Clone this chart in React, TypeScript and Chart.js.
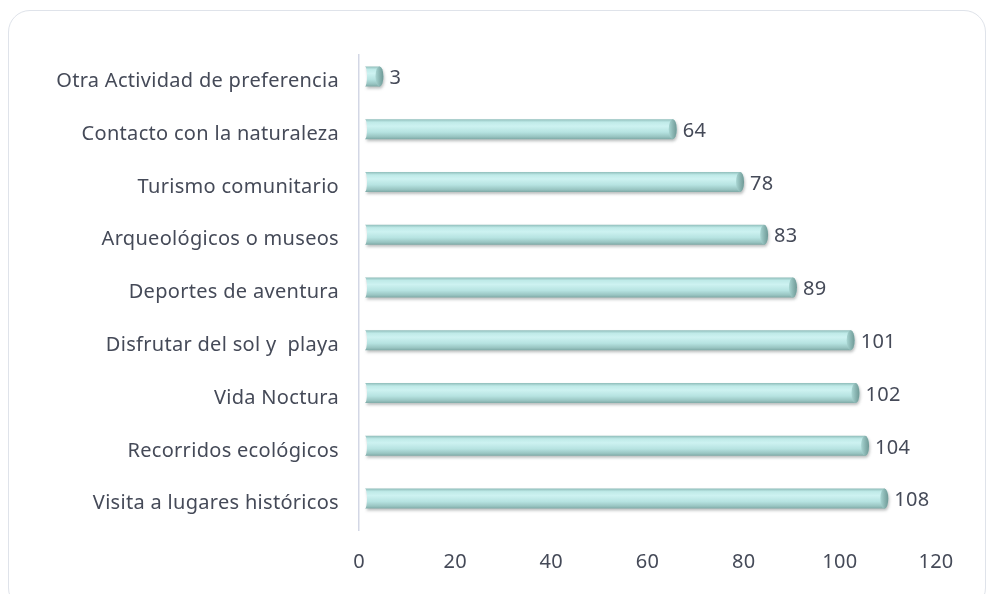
import React, { useEffect, useRef } from "react";
import { Chart, registerables } from "chart.js";

Chart.register(...registerables);

const categories = [
  "Otra Actividad de preferencia",
  "Contacto con la naturaleza",
  "Turismo comunitario",
  "Arqueológicos o museos",
  "Deportes de aventura",
  "Disfrutar del sol y  playa",
  "Vida Noctura",
  "Recorridos ecológicos",
  "Visita a lugares históricos",
];
const values = [3, 64, 78, 83, 89, 101, 102, 104, 108];
const xMin = 0;
const xMax = 120;
const xStep = 20;

const FONT = "'Noto Sans', sans-serif";
const TEXT = "#454a58";
const DEPTH_X = 6;
const DEPTH_Y = -5;
const BAR_H = 20;
const FS = 20;

const spacing = {
  id: "spacing",
  beforeDraw(chart: any) {
    chart.ctx.letterSpacing = "0.3px";
  },
  afterDraw(chart: any) {
    chart.ctx.letterSpacing = "0px";
  },
};

const barStyle = {
  id: "barStyle",
  afterDatasetDraw(chart: any) {
    const ctx = chart.ctx;
    const meta = chart.getDatasetMeta(0);
    meta.data.forEach((el: any, i: number) => {
      const x0 = el.base + DEPTH_X;
      const x1 = el.x + DEPTH_X;
      const y = el.y + DEPTH_Y;
      const h = el.height;
      const top = y - h / 2;
      ctx.save();
      ctx.shadowColor = "rgba(60,70,70,0.35)";
      ctx.shadowBlur = 3;
      ctx.shadowOffsetX = 1;
      ctx.shadowOffsetY = 2;
      const g = ctx.createLinearGradient(0, top, 0, top + h);
      g.addColorStop(0, "#8fbdba");
      g.addColorStop(0.15, "#bfeae8");
      g.addColorStop(0.35, "#cdf2f1");
      g.addColorStop(0.65, "#b6e3e1");
      g.addColorStop(0.88, "#98c4c1");
      g.addColorStop(1, "#7ea9a6");
      ctx.fillStyle = g;
      ctx.beginPath();
      ctx.moveTo(x0, top);
      ctx.lineTo(x1, top);
      ctx.ellipse(x1, y, 4, h / 2, 0, -Math.PI / 2, Math.PI / 2);
      ctx.lineTo(x0, top + h);
      ctx.ellipse(x0, y, 2, h / 2, 0, Math.PI / 2, -Math.PI / 2, true);
      ctx.closePath();
      ctx.fill();
      ctx.restore();
      const gc = ctx.createLinearGradient(x1 - 4, 0, x1 + 4, 0);
      gc.addColorStop(0, "#a9d6d3");
      gc.addColorStop(0.5, "#8ab6b3");
      gc.addColorStop(1, "#6f9996");
      ctx.save();
      ctx.fillStyle = gc;
      ctx.beginPath();
      ctx.ellipse(x1, y, 4, h / 2, 0, 0, Math.PI * 2);
      ctx.fill();
      ctx.restore();
      ctx.save();
      ctx.fillStyle = TEXT;
      ctx.font = `${FS}px ${FONT}`;
      ctx.textAlign = "left";
      ctx.textBaseline = "middle";
      ctx.fillText(String(values[i]), x1 + 10, y + 2);
      ctx.restore();
    });
  },
};

export default function App() {
  const ref = useRef<HTMLCanvasElement | null>(null);
  useEffect(() => {
    if (!ref.current) return;
    const chart = new Chart(ref.current, {
      type: "bar",
      data: {
        labels: categories,
        datasets: [
          {
            data: values,
            barThickness: BAR_H,
            backgroundColor: "rgba(0,0,0,0)",
            borderWidth: 0,
          },
        ],
      },
      options: {
        indexAxis: "y",
        responsive: false,
        animation: false,
        layout: { padding: { top: 55, right: 51, left: 0, bottom: 0 } },
        plugins: { legend: { display: false }, tooltip: { enabled: false } },
        scales: {
          x: {
            min: xMin,
            max: xMax,
            grid: { display: false, drawTicks: false },
            border: { display: false },
            ticks: {
              stepSize: xStep,
              padding: 20,
              color: TEXT,
              font: { family: FONT, size: FS },
            },
            afterFit: (s: any) => {
              s.height = 64;
            },
          },
          y: {
            grid: { display: false, drawTicks: false },
            border: { display: true, color: "#d3d7e5", width: 1.5 },
            ticks: {
              padding: 20,
              color: TEXT,
              font: { family: FONT, size: FS },
            },
            afterFit: (s: any) => {
              s.width = 359;
            },
          },
        },
      },
      plugins: [spacing, barStyle],
    } as any);
    return () => chart.destroy();
  }, []);

  return (
    <div style={{ position: "absolute", left: 0, top: 0, width: 987, height: 594, background: "#fff", overflow: "hidden" }}>
      <div
        style={{
          position: "absolute",
          left: 8,
          top: 10,
          width: 978,
          height: 600,
          border: "1.5px solid #dfe3ea",
          borderRadius: 22,
          boxSizing: "border-box",
        }}
      />
      <canvas ref={ref} width={987} height={594} style={{ position: "absolute", left: 0, top: 0 }} />
    </div>
  );
}
